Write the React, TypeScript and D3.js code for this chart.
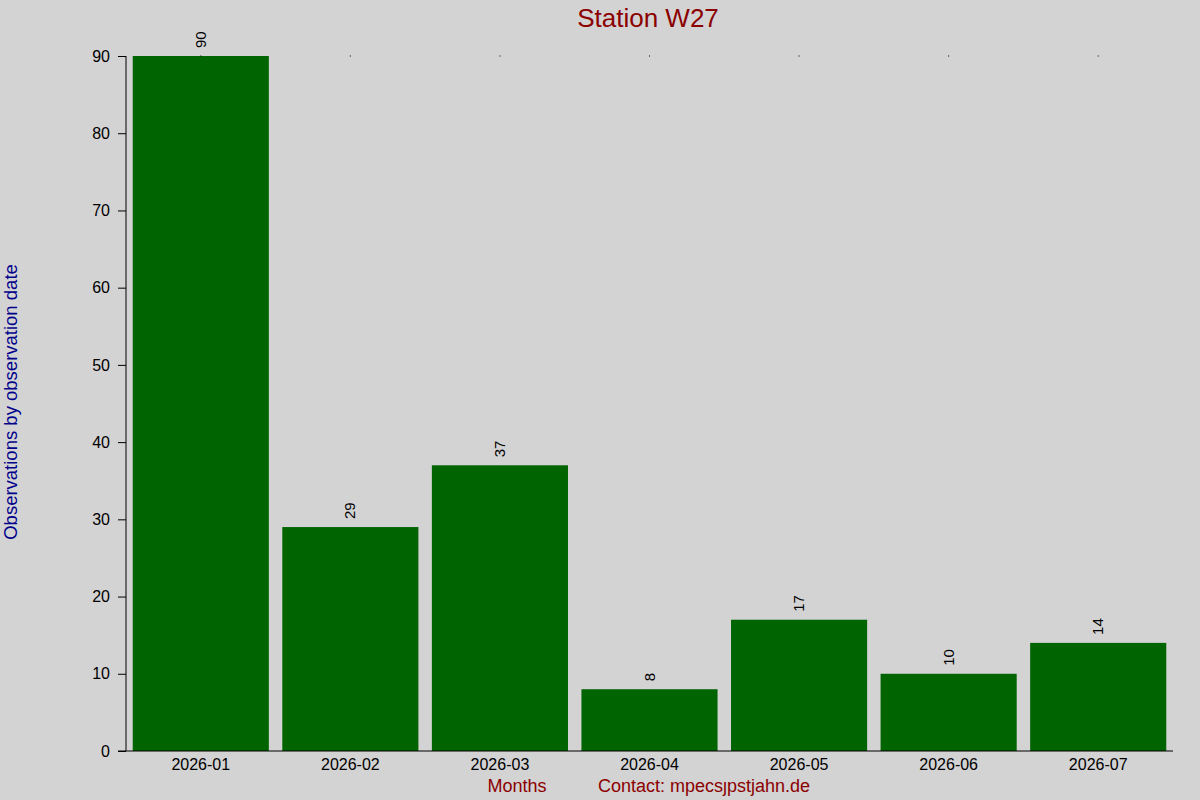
import React, { useEffect, useRef } from 'react';
import * as d3 from 'd3';

const months = ['2026-01', '2026-02', '2026-03', '2026-04', '2026-05', '2026-06', '2026-07'];
const observations = [90, 29, 37, 8, 17, 10, 14];
const yTicks = [0, 10, 20, 30, 40, 50, 60, 70, 80, 90];

const App: React.FC = () => {
  const svgRef = useRef<SVGSVGElement>(null);
  const width = 1200;
  const height = 800;
  const margin = { top: 56, right: 27, bottom: 49, left: 126 };

  useEffect(() => {
    if (!svgRef.current) return;
    const svg = d3.select(svgRef.current);
    svg.selectAll('*').remove();

    const innerWidth = width - margin.left - margin.right;
    const innerHeight = height - margin.top - margin.bottom;
    const font = 'Liberation Sans, Arial, sans-serif';

    svg.append('rect').attr('width', width).attr('height', height).attr('fill', '#d3d3d3');

    const xScale = d3.scaleBand().domain(months).range([0, innerWidth]).paddingInner(0.09).paddingOuter(0.045);
    const yScale = d3.scaleLinear().domain([0, 90]).range([innerHeight, 0]);

    const g = svg.append('g').attr('transform', `translate(${margin.left},${margin.top})`);

    // bars
    g.selectAll('.bar')
      .data(observations)
      .enter()
      .append('rect')
      .attr('x', (_, i) => xScale(months[i]) || 0)
      .attr('width', xScale.bandwidth())
      .attr('y', d => yScale(d))
      .attr('height', d => innerHeight - yScale(d))
      .attr('fill', '#006400');

    // tiny markers at the top of each column
    g.selectAll('.dot')
      .data(months)
      .enter()
      .append('rect')
      .attr('x', d => (xScale(d) || 0) + xScale.bandwidth() / 2 - 0.5)
      .attr('y', yScale(90) - 0.5)
      .attr('width', 1)
      .attr('height', 1)
      .attr('fill', '#000');

    // value labels
    g.selectAll('.value')
      .data(observations)
      .enter()
      .append('text')
      .attr('transform', (d, i) => `translate(${(xScale(months[i]) || 0) + xScale.bandwidth() / 2 + 5},${yScale(d) - 8}) rotate(-90)`)
      .style('font-family', font)
      .style('font-size', '15px')
      .style('fill', '#000')
      .text(d => d);

    // y axis
    const yAxis = d3.axisLeft(yScale).tickValues(yTicks).tickSize(8).tickPadding(8);
    const yG = g.append('g').call(yAxis);
    yG.select('.domain').attr('d', `M0,${innerHeight}V0`).attr('stroke', '#000');
    yG.selectAll('text').style('font-family', font).style('font-size', '16px').attr('fill', '#000');

    // x axis
    const xAxis = d3.axisBottom(xScale).tickSize(0).tickPadding(8);
    const xG = g.append('g').attr('transform', `translate(0,${innerHeight})`).call(xAxis);
    xG.select('.domain').attr('d', `M-8,0H${innerWidth}`).attr('stroke', '#000');
    xG.selectAll('text').style('font-family', font).style('font-size', '16px').attr('fill', '#000');

    // title
    svg.append('text')
      .attr('x', 648)
      .attr('y', 27)
      .attr('text-anchor', 'middle')
      .style('font-family', font)
      .style('font-size', '26px')
      .style('fill', '#8b0000')
      .text('Station W27');

    // y label
    svg.append('text')
      .attr('transform', `translate(17,402) rotate(-90)`)
      .attr('text-anchor', 'middle')
      .style('font-family', font)
      .style('font-size', '18.5px')
      .style('fill', '#00008b')
      .text('Observations by observation date');

    // bottom labels
    svg.append('text')
      .attr('x', 517)
      .attr('y', 792)
      .attr('text-anchor', 'middle')
      .style('font-family', font)
      .style('font-size', '18px')
      .style('fill', '#8b0000')
      .text('Months');

    svg.append('text')
      .attr('x', 704)
      .attr('y', 792)
      .attr('text-anchor', 'middle')
      .style('font-family', font)
      .style('font-size', '18px')
      .style('fill', '#8b0000')
      .text('Contact: mpecsȷpstjahn.de');
  }, []);

  return (
    <div style={{ position: 'absolute', left: 0, top: 0 }}>
      <svg ref={svgRef} width={width} height={height} style={{ display: 'block' }} />
    </div>
  );
};

export default App;
